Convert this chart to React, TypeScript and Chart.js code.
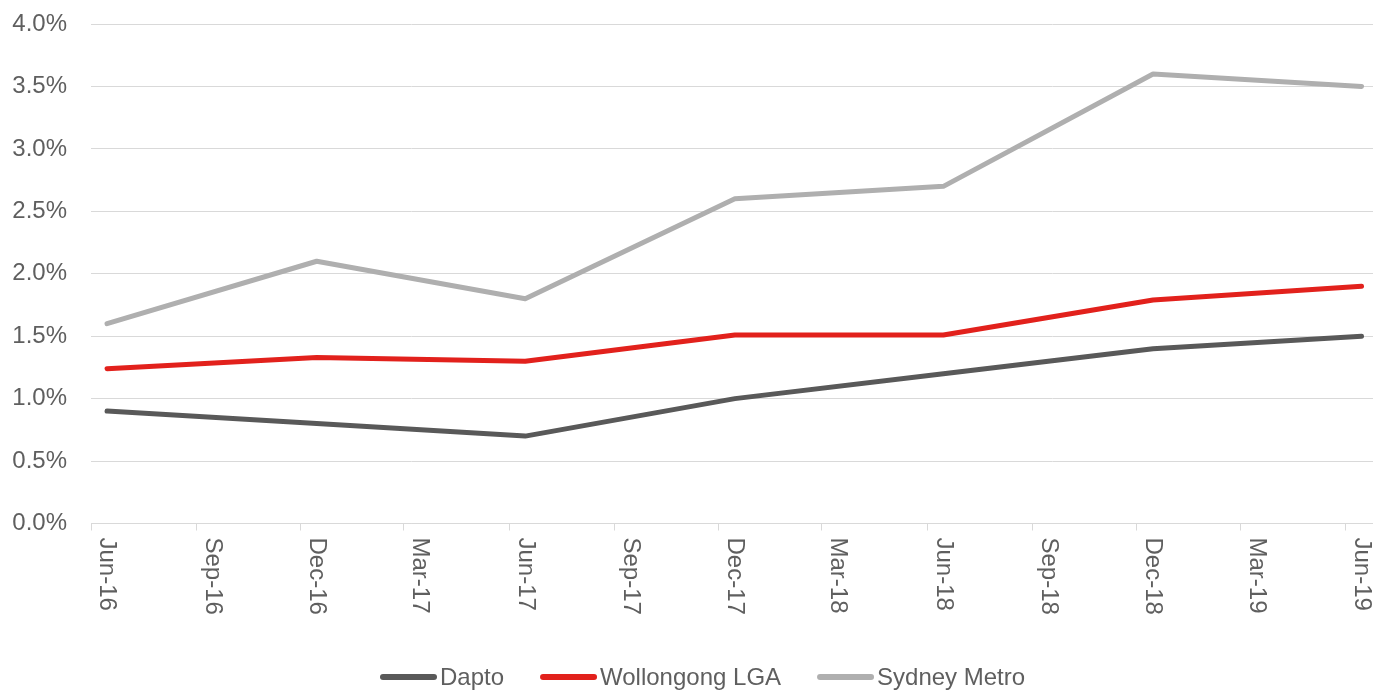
import React, { useEffect, useRef } from 'react';
import { Chart, registerables } from 'chart.js';

Chart.register(...registerables);

// ---- Data ----
const periods = ['Jun-16', 'Dec-16', 'Jun-17', 'Dec-17', 'Jun-18', 'Dec-18', 'Jun-19'];
const daptoValues = [0.9, 0.8, 0.7, 1.0, 1.2, 1.4, 1.5];
const wollongongValues = [1.24, 1.33, 1.3, 1.51, 1.51, 1.79, 1.9];
const sydneyValues = [1.6, 2.1, 1.8, 2.6, 2.7, 3.6, 3.5];
const seriesNames = ['Dapto', 'Wollongong LGA', 'Sydney Metro'];
const seriesColors = ['#595959', '#E2211C', '#AFAFAF'];
const xTickLabels = [
  'Jun-16', 'Sep-16', 'Dec-16', 'Mar-17', 'Jun-17', 'Sep-17', 'Dec-17',
  'Mar-18', 'Jun-18', 'Sep-18', 'Dec-18', 'Mar-19', 'Jun-19',
];
const yTickValues = [0, 0.5, 1, 1.5, 2, 2.5, 3, 3.5, 4];

const FONT = "'Liberation Sans', Arial, Helvetica, sans-serif";
const TEXT_COLOR = '#5F5F5F';
const GRID_COLOR = '#D9D9D9';

const MONTHS = ['Jan', 'Feb', 'Mar', 'Apr', 'May', 'Jun', 'Jul', 'Aug', 'Sep', 'Oct', 'Nov', 'Dec'];
function dayOf(label: string, dayOfMonth: number): number {
  const [m, y] = label.split('-');
  return Date.UTC(2000 + Number(y), MONTHS.indexOf(m), dayOfMonth) / 86400000;
}

const xLabelsPlugin = {
  id: 'xLabelsPlugin',
  afterDraw(chart: any) {
    const { ctx, chartArea } = chart;
    const xScale = chart.scales.x;
    ctx.save();
    ctx.font = `24px ${FONT}`;
    ctx.fillStyle = TEXT_COLOR;
    ctx.textAlign = 'left';
    ctx.textBaseline = 'middle';
    xTickLabels.forEach((l) => {
      const px = xScale.getPixelForValue(dayOf(l, 15));
      ctx.save();
      ctx.translate(px, chartArea.bottom + 14);
      ctx.rotate(Math.PI / 2);
      ctx.fillText(l, 0, 0);
      ctx.restore();
    });
    ctx.restore();
  },
};

const legendPlugin = {
  id: 'customLegend',
  afterDraw(chart: any) {
    const { ctx } = chart;
    const y = 677;
    let x = 380;
    ctx.save();
    ctx.font = `24px ${FONT}`;
    ctx.textBaseline = 'middle';
    ctx.textAlign = 'left';
    chart.data.datasets.forEach((ds: any) => {
      ctx.strokeStyle = ds.borderColor;
      ctx.lineWidth = 6;
      ctx.lineCap = 'round';
      ctx.beginPath();
      ctx.moveTo(x + 3, y);
      ctx.lineTo(x + 54, y);
      ctx.stroke();
      ctx.fillStyle = TEXT_COLOR;
      ctx.fillText(ds.label, x + 60, y + 1);
      x += 60 + ctx.measureText(ds.label).width + 36;
    });
    ctx.restore();
  },
};

export default function App() {
  const canvasRef = useRef<HTMLCanvasElement | null>(null);

  useEffect(() => {
    if (!canvasRef.current) return;
    const seriesValues = [daptoValues, wollongongValues, sydneyValues];
    const chart = new Chart(canvasRef.current, {
      type: 'line',
      data: {
        datasets: seriesNames.map((name, i) => ({
          label: name,
          data: periods.map((p, j) => ({ x: dayOf(p, 15), y: seriesValues[i][j] })),
          borderColor: seriesColors[i],
          backgroundColor: seriesColors[i],
          borderWidth: 5,
          borderCapStyle: 'round' as const,
          borderJoinStyle: 'round' as const,
          pointRadius: 0,
          pointHoverRadius: 0,
          tension: 0,
          fill: false,
        })),
      },
      options: {
        responsive: false,
        animation: false,
        layout: { padding: { top: 24, left: 0, right: 0, bottom: 0 } },
        plugins: {
          legend: { display: false },
          tooltip: { enabled: false },
        },
        scales: {
          x: {
            type: 'linear',
            min: dayOf('Jun-16', 1),
            max: dayOf('Jun-19', 1) + 24,
            afterBuildTicks: (scale: any) => {
              scale.ticks = xTickLabels.map((l) => ({ value: dayOf(l, 1) }));
            },
            afterFit: (scale: any) => {
              scale.height = 691 - 523.5;
              scale.paddingLeft = 0;
              scale.paddingRight = 0;
            },
            ticks: { display: false },
            grid: {
              display: true,
              drawOnChartArea: false,
              drawTicks: true,
              tickLength: 7,
              color: GRID_COLOR,
              lineWidth: 1,
            },
            border: { display: true, color: GRID_COLOR, width: 1 },
          },
          y: {
            type: 'linear',
            min: 0,
            max: 4,
            afterBuildTicks: (scale: any) => {
              scale.ticks = yTickValues.map((v) => ({ value: v }));
            },
            afterFit: (scale: any) => {
              scale.width = 91;
              scale.paddingTop = 0;
              scale.paddingBottom = 0;
            },
            ticks: {
              padding: 24,
              color: TEXT_COLOR,
              font: { family: FONT, size: 24 },
              callback: (v: any) => Number(v).toFixed(1) + '%',
            },
            grid: { color: GRID_COLOR, lineWidth: 1, drawTicks: false },
            border: { display: false },
          },
        },
      },
      plugins: [xLabelsPlugin, legendPlugin],
    });
    return () => chart.destroy();
  }, []);

  return (
    <div style={{ position: 'fixed', left: 0, top: 0, width: 1373, height: 691, background: '#fff' }}>
      <canvas ref={canvasRef} width={1373} height={691} style={{ display: 'block' }} />
    </div>
  );
}
